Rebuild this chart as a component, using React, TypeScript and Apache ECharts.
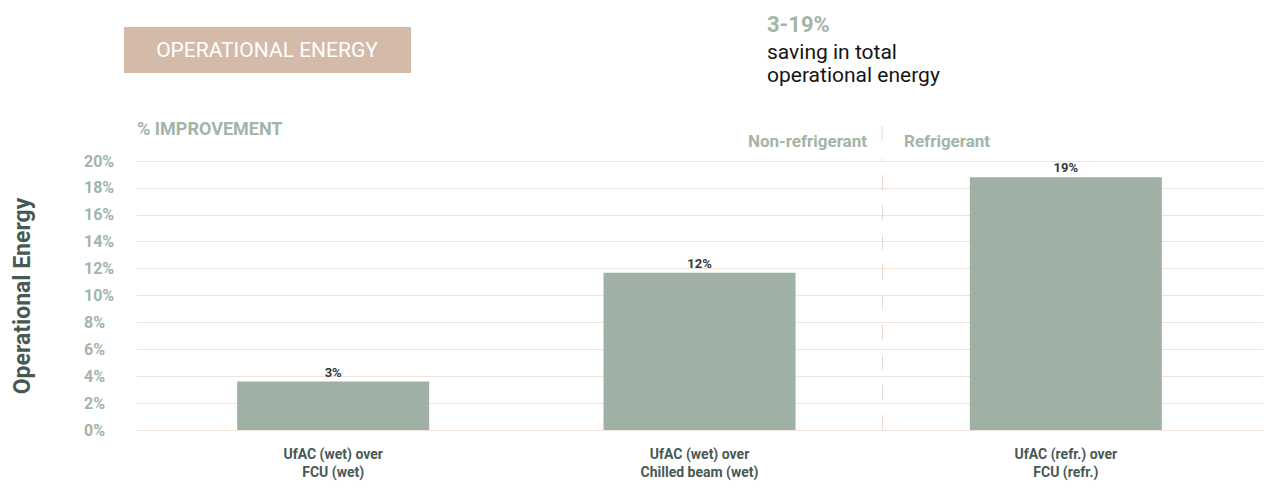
import React, { useEffect, useRef } from "react";
import * as echarts from "echarts";

const categories = [
  "UfAC (wet) over\nFCU (wet)",
  "UfAC (wet) over\nChilled beam (wet)",
  "UfAC (refr.) over\nFCU (refr.)",
];
const improvement = [3.6, 11.7, 18.8];
const barLabels = ["3%", "12%", "19%"];
const yMin = 0;
const yMax = 20;
const yInterval = 2;
const groupLeft = "Non-refrigerant";
const groupRight = "Refrigerant";
const dividerBoundary = 2; // boundary before the 3rd category

const SAGE = "#a2b5a7";
const BAR = "#9eb1a4";
const GRID = "#f0e3da";
const DIV = "#e6d9d0";
const DARK = "#485955";
const FONT = "Roboto, 'Noto Sans', sans-serif";

// layout (pixels)
const GRID_LEFT = 137;
const GRID_RIGHT_EDGE = 1263;
const BAR_AXIS_LEFT = 150;
const BAR_AXIS_WIDTH = 1099;

export default function App() {
  const ref = useRef<HTMLDivElement>(null);
  useEffect(() => {
    if (!ref.current) return;
    const chart = echarts.init(ref.current, null, { renderer: "svg" });
    const band = BAR_AXIS_WIDTH / categories.length;
    const x0min = (GRID_LEFT - BAR_AXIS_LEFT) / band;
    const x0max = (GRID_RIGHT_EDGE - BAR_AXIS_LEFT) / band;
    chart.setOption({
      animation: false,
      backgroundColor: "#ffffff",
      textStyle: { fontFamily: FONT },
      grid: [
        { left: GRID_LEFT, right: 1271 - GRID_RIGHT_EDGE, top: 161, bottom: 58 },
        { left: BAR_AXIS_LEFT, width: BAR_AXIS_WIDTH, top: 161, bottom: 58 },
      ],
      xAxis: [
        { type: "value", gridIndex: 0, show: false, min: x0min, max: x0max },
        {
          type: "category",
          gridIndex: 1,
          data: categories,
          axisLine: { show: false },
          axisTick: { show: false },
          splitLine: { show: false },
          axisLabel: {
            margin: 15,
            fontSize: 14,
            fontWeight: "bold",
            color: DARK,
            lineHeight: 18,
            fontFamily: FONT,
          },
        },
      ],
      yAxis: [
        {
          type: "value",
          gridIndex: 0,
          min: yMin,
          max: yMax,
          interval: yInterval,
          axisLine: { show: false },
          axisTick: { show: false },
          axisLabel: {
            align: "left",
            margin: 53,
            fontSize: 16,
            fontWeight: "bold",
            color: SAGE,
            fontFamily: FONT,
            formatter: (v: number) => `${v}%`,
          },
          splitLine: { show: true, lineStyle: { color: GRID, width: 1 } },
        },
        {
          type: "value",
          gridIndex: 1,
          min: yMin,
          max: yMax,
          interval: yInterval,
          show: false,
          splitLine: { show: false },
        },
      ],
      series: [
        {
          type: "bar",
          xAxisIndex: 1,
          yAxisIndex: 1,
          data: improvement,
          barWidth: 192,
          itemStyle: { color: BAR },
          label: {
            show: true,
            position: "top",
            distance: 3,
            fontSize: 13,
            fontWeight: "bold",
            color: "#2f3c3a",
            fontFamily: FONT,
            formatter: (p: any) => barLabels[p.dataIndex],
          },
        },
        {
          type: "line",
          xAxisIndex: 0,
          yAxisIndex: 0,
          data: [],
          silent: true,
          markLine: {
            silent: true,
            symbol: "none",
            label: { show: false },
            lineStyle: { color: DIV, width: 1, type: [15, 15] },
            data: [{ xAxis: dividerBoundary }],
          },
        },
      ],
      graphic: [
        {
          type: "rect",
          left: 124,
          top: 27,
          shape: { width: 287, height: 46 },
          style: { fill: "#d4baa8" },
        },
        {
          type: "text",
          x: 267,
          y: 50,
          style: {
            text: "OPERATIONAL ENERGY",
            fill: "#ffffff",
            fontSize: 21,
            fontWeight: "normal",
            fontFamily: FONT,
            align: "center",
            verticalAlign: "middle",
          },
        },
        {
          type: "text",
          x: 767,
          y: 24,
          style: {
            text: "3-19%",
            fill: SAGE,
            fontSize: 22,
            fontWeight: "bold",
            fontFamily: FONT,
            align: "left",
            verticalAlign: "middle",
          },
        },
        {
          type: "text",
          x: 767,
          y: 51.5,
          style: {
            text: "saving in total",
            fill: "#151515",
            fontSize: 21,
            fontFamily: FONT,
            align: "left",
            verticalAlign: "middle",
          },
        },
        {
          type: "text",
          x: 767,
          y: 75,
          style: {
            text: "operational energy",
            fill: "#151515",
            fontSize: 21,
            fontFamily: FONT,
            align: "left",
            verticalAlign: "middle",
          },
        },
        {
          type: "text",
          x: 137,
          y: 128,
          style: {
            text: "% IMPROVEMENT",
            fill: SAGE,
            fontSize: 18,
            fontWeight: "bold",
            fontFamily: FONT,
            align: "left",
            verticalAlign: "middle",
          },
        },
        {
          type: "text",
          x: 867,
          y: 141,
          style: {
            text: groupLeft,
            fill: SAGE,
            fontSize: 17,
            fontWeight: "bold",
            fontFamily: FONT,
            align: "right",
            verticalAlign: "middle",
          },
        },
        {
          type: "text",
          x: 904,
          y: 141,
          style: {
            text: groupRight,
            fill: SAGE,
            fontSize: 17,
            fontWeight: "bold",
            fontFamily: FONT,
            align: "left",
            verticalAlign: "middle",
          },
        },
        {
          type: "line",
          shape: { x1: 882, y1: 126, x2: 882, y2: 161 },
          style: { stroke: DIV, lineWidth: 1, lineDash: [15, 18] },
        },
        {
          type: "text",
          x: 22,
          y: 296,
          rotation: Math.PI / 2,
          style: {
            text: "Operational Energy",
            fill: DARK,
            fontSize: 23,
            fontWeight: "bold",
            fontFamily: FONT,
            align: "center",
            verticalAlign: "middle",
          },
        },
      ],
    });
    return () => chart.dispose();
  }, []);
  return (
    <div
      ref={ref}
      style={{ position: "absolute", left: 0, top: 0, width: 1271, height: 488 }}
    />
  );
}
